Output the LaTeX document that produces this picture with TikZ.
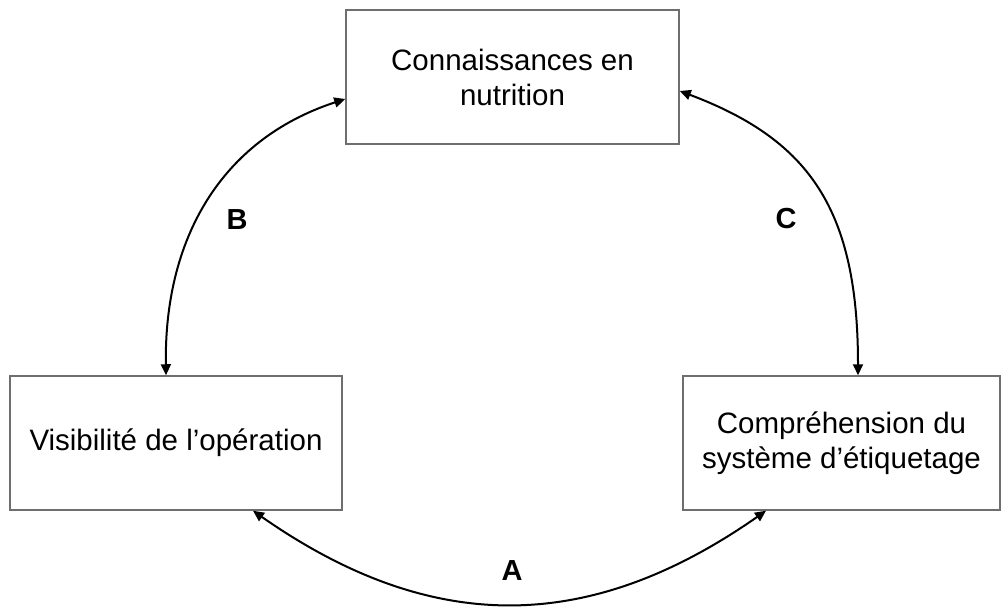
\documentclass[tikz,border=0pt]{standalone}
\usepackage{fontspec}
\setmainfont{Liberation Sans}
\usetikzlibrary{arrows.meta}
\begin{document}
\begin{tikzpicture}[x=1pt,y=-1pt,
  box/.style={draw={rgb,255:red,110;green,110;blue,110},line width=1.5pt,rectangle,inner sep=0pt,align=center,font=\fontsize{29.5}{35}\selectfont},
  arr/.style={line width=2pt,{Triangle[length=11pt,width=10pt]}-{Triangle[length=11pt,width=10pt]}},
  lbl/.style={font=\fontsize{29}{35}\selectfont\bfseries}]
\useasboundingbox (0,0) rectangle (1004,607);
\node[box,minimum width=333pt,minimum height=134pt] (T) at (512.5,77) {Connaissances en\\nutrition};
\node[box,minimum width=332pt,minimum height=134pt] (L) at (176,443) {Visibilité de l’opération};
\node[box,minimum width=317pt,minimum height=134pt] (R) at (841.5,443) {Compréhension du\\système d’étiquetage};
\draw[arr] ([xshift=-10pt]L.north) .. controls (164,240) and (220,140) .. ([yshift=-22pt]T.west);
\draw[arr] ([yshift=-14pt]T.east) .. controls (810,140) and (858,210) .. ([xshift=16.5pt]R.north);
\draw[arr] ([xshift=77pt]L.south) .. controls (431,635) and (588,635) .. ([xshift=-75.5pt]R.south);
\node[lbl] (lB) at (237,220) {B};
\node[lbl] (lC) at (786,219) {C};
\node[lbl] (lA) at (512,571) {A};
\end{tikzpicture}
\end{document}
